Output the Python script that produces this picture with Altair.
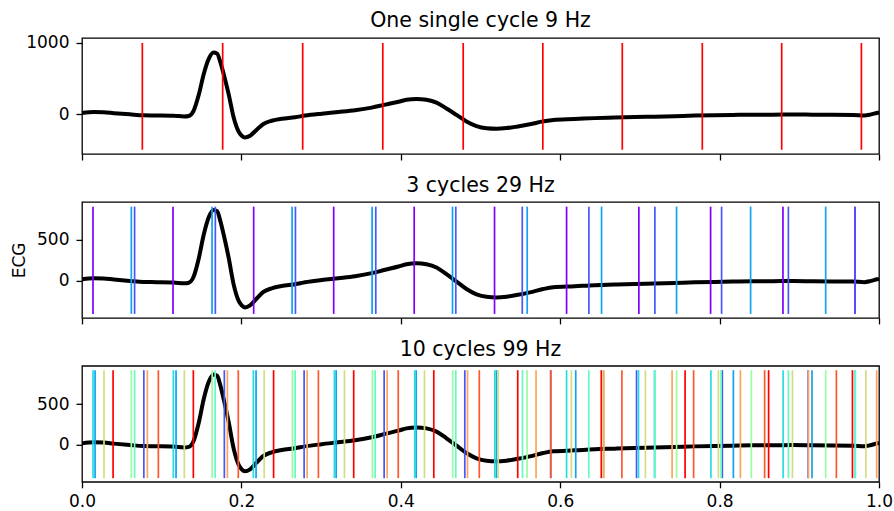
import altair as alt
import pandas as pd

FONT = "DejaVu Sans"

# ECG trace: time (s) and amplitude
time_s = [0.000, 0.015, 0.027, 0.040, 0.060, 0.077, 0.094, 0.115, 0.128, 0.134,
          0.140, 0.1465, 0.1527, 0.159, 0.1652, 0.1695, 0.1736, 0.1778, 0.184, 0.1903,
          0.1966, 0.2004, 0.2046, 0.2109, 0.2192, 0.2276, 0.238, 0.2506, 0.2674, 0.280,
          0.3008, 0.3217, 0.3427, 0.3636, 0.3804, 0.3971, 0.4071, 0.4197, 0.4322, 0.4448,
          0.4573, 0.4699, 0.4824, 0.495, 0.5075, 0.5201, 0.5326, 0.5452, 0.5619, 0.5787,
          0.5913, 0.618, 0.6431, 0.6682, 0.6933, 0.7184, 0.7435, 0.7686, 0.7937, 0.8163,
          0.8414, 0.8665, 0.8916, 0.9167, 0.9418, 0.967, 0.9817, 0.990, 0.9975, 1.000]
ecg = [15, 28, 25, 12, -5, -18, -20, -24, -35, -28,
       45, 270, 560, 775, 865, 850, 730, 560, 280, -50,
       -250, -305, -330, -305, -220, -140, -95, -67, -46, -22,
       5, 28, 53, 90, 132, 172, 200, 212, 200, 160,
       78, -13, -104, -170, -200, -207, -198, -178, -145, -104,
       -83, -71, -58, -50, -42, -37, -30, -22, -17, -13,
       -9, -9, -6, -9, -12, -13, -20, -5, 15, 20]

# One cycle at 9 Hz
single_red = [0.0757, 0.1765, 0.2769, 0.3774, 0.4783, 0.5782, 0.6779, 0.7783, 0.8779, 0.9779]

# Three cycles at 29 Hz
c3_purple = [0.0138, 0.1142, 0.2154, 0.3158, 0.4168, 0.5176, 0.6080, 0.6987, 0.7887, 0.8795, 0.9699]
c3_blue = [0.0660, 0.1673, 0.2678, 0.3686, 0.4690, 0.5524, 0.6360, 0.7188, 0.8025, 0.8863, 0.9699]
c3_sky = [0.0619, 0.1632, 0.2636, 0.3640, 0.4649, 0.5586, 0.6519, 0.7460, 0.8389, 0.9331]

# Ten cycles at 99 Hz
c10_blue = [0.0776, 0.1786, 0.2787, 0.3791, 0.4803, 0.5881, 0.6958, 0.8034, 0.9111]
c10_sky = [0.0164, 0.1180, 0.2184, 0.3189, 0.4193, 0.5201, 0.6195, 0.7184, 0.8173, 0.9159]
c10_cyan = [0.0138, 0.1146, 0.2150, 0.3167, 0.4175, 0.5180, 0.6080, 0.6983, 0.7891, 0.8797, 0.9701]
c10_teal = [0.0660, 0.1671, 0.2674, 0.3678, 0.4690, 0.5527, 0.6359, 0.7187, 0.8019, 0.8863, 0.9704]
c10_green = [0.0619, 0.1633, 0.2640, 0.3644, 0.4652, 0.5584, 0.6519, 0.7460, 0.8398, 0.9331]
c10_olive = [0.0276, 0.1284, 0.2286, 0.3293, 0.4297, 0.5222, 0.6140, 0.7069, 0.7985, 0.8914, 0.9835]
c10_orange = [0.0820, 0.1824, 0.2825, 0.3829, 0.4837, 0.5697, 0.6548, 0.7404, 0.8261, 0.9115, 0.9971]
c10_vermilion = [0.0958, 0.1961, 0.2966, 0.3968, 0.4985, 0.5881, 0.6774, 0.7674, 0.8565, 0.9465]
c10_red = [0.0390, 0.1397, 0.2404, 0.3409, 0.4414, 0.5467, 0.6516, 0.7567, 0.8615, 0.9667]

# y-axis ranges, tick values and marker spans for each panel
y_domains = [[-563, 1070], [-458, 963], [-459, 972]]
y_ticks = [[0, 1000], [0, 500], [0, 500]]
marker_spans = [[-503, 1000], [-409, 905], [-414, 918]]
titles = ["One single cycle 9 Hz", "3 cycles 29 Hz", "10 cycles 99 Hz"]
x_ticks = [0.0, 0.2, 0.4, 0.6, 0.8, 1.0]

ecg_df = pd.DataFrame({"t": time_s, "v": ecg})


def events(groups):
    rows = []
    for color, times in groups:
        rows += [{"t": t, "c": color} for t in times]
    return pd.DataFrame(rows)


event_sets = [
    events([("#ff0000", single_red)]),
    events([("#8000ff", c3_purple), ("#4757fb", c3_blue), ("#0ea4f0", c3_sky)]),
    events([("#4757fb", c10_blue), ("#0ea4f0", c10_sky), ("#2adddd", c10_cyan),
            ("#63fbc3", c10_teal), ("#9cfba4", c10_green), ("#d4dd80", c10_olive),
            ("#ffa457", c10_orange), ("#ff572c", c10_vermilion), ("#ff0000", c10_red)]),
]

W, H = 797, 116


def panel(i, show_labels, y_title, title_offset):
    xs = alt.Scale(domain=[0, 1], nice=False, zero=False)
    ys = alt.Scale(domain=y_domains[i], nice=False, zero=False)
    x_axis = alt.Axis(values=x_ticks, format=".1f", labels=show_labels, title=None,
                      labelPadding=6, labelFlush=False)
    y_axis = alt.Axis(values=y_ticks[i], format="d", title=y_title, titlePadding=8,
                      labelPadding=7, labelFlush=False)
    trace = alt.Chart(ecg_df).mark_line(
        color="black", strokeWidth=4, interpolate="monotone"
    ).encode(
        x=alt.X("t:Q", scale=xs, axis=x_axis),
        y=alt.Y("v:Q", scale=ys, axis=y_axis),
    )
    ev = event_sets[i].assign(lo=marker_spans[i][0], hi=marker_spans[i][1])
    markers = alt.Chart(ev).mark_rule(strokeWidth=1.7).encode(
        x=alt.X("t:Q", scale=xs, axis=x_axis),
        y=alt.Y("lo:Q", scale=ys, axis=y_axis),
        y2="hi:Q",
        color=alt.Color("c:N", scale=None),
    )
    return alt.layer(trace, markers).properties(
        width=W, height=H,
        title=alt.TitleParams(titles[i], offset=title_offset, anchor="middle"),
    )


chart = alt.vconcat(
    panel(0, False, None, 2),
    panel(1, False, "ECG", 5),
    panel(2, True, None, 5),
    spacing=12.9,
).configure_view(
    stroke="black", strokeWidth=1.3
).configure_axis(
    domain=False, grid=False, tickColor="black", tickSize=6, tickWidth=1.3,
    labelFont=FONT, labelFontSize=17, labelColor="black",
    titleFont=FONT, titleFontSize=17, titleFontWeight="normal", titleColor="black",
).configure_title(
    font=FONT, fontSize=20.5, fontWeight="normal", color="black"
).properties(
    padding={"left": 9, "top": 10, "right": 0, "bottom": 0}
)

chart.save("out.html", embed_options={"renderer": "svg", "actions": False})
